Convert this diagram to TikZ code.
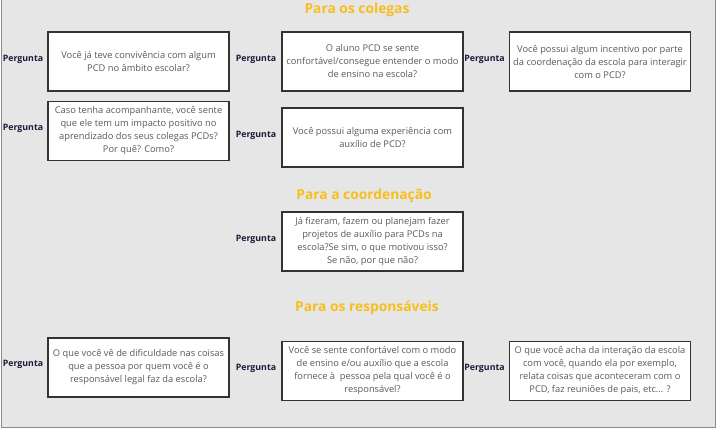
\documentclass[tikz,border=0pt]{standalone}
\usepackage{fontspec}
\setmainfont{Open Sans}
\definecolor{panelbg}{HTML}{E6E6E6}
\definecolor{panelline}{HTML}{8A8A8A}
\definecolor{boxline}{HTML}{333333}
\definecolor{qtext}{HTML}{5A5A5A}
\definecolor{lbl}{HTML}{1C1C3C}
\definecolor{ttl}{HTML}{F8BE1E}
\tikzset{
  qbox/.style={draw=boxline, line width=1.6pt, fill=white, minimum width=181pt, minimum height=59pt, inner sep=0pt, align=center, text=qtext, font=\fontsize{9.3}{13}\selectfont},
  qlabel/.style={text=lbl, font=\fontsize{8.8}{10}\selectfont\bfseries, inner sep=0pt},
  sectitle/.style={text=ttl, font=\fontsize{13.8}{15}\selectfont\bfseries, inner sep=0pt}
}
\begin{document}
\begin{tikzpicture}[x=1pt,y=-1pt]
\useasboundingbox (0,0) rectangle (719,429);
\fill[white] (0,0) rectangle (719,429);
\draw[panelline, fill=panelbg, line width=1.5pt] (1.5,-5) rectangle (715.5,427.5);
% titles
\node[sectitle] (t1) at (357,10) {Para os colegas};
\node[sectitle] (t2) at (364,196) {Para a coordenação};
\node[sectitle] (t3) at (367,308) {Para os responsáveis};
% row 1
\node[qbox] (b1) at (138.5,61.5) {Você já teve convivência com algum\\PCD no âmbito escolar?};
\node[qbox] (b2) at (372.5,61.5) {O aluno PCD se sente\\confortável/consegue entender o modo\\de ensino na escola?};
\node[qbox] (b3) at (600,61.5) {Você possui algum incentivo por parte\\da coordenação da escola para interagir\\com o PCD?};
\node[qlabel] (l1) at (23,59) {Pergunta};
\node[qlabel] (l2) at (256,59) {Pergunta};
\node[qlabel] (l3) at (484.5,59) {Pergunta};
% row 2
\node[qbox] (b4) at (138.5,131) {Caso tenha acompanhante, você sente\\que ele tem um impacto positivo no\\aprendizado dos seus colegas PCDs?\\Por quê? Como?};
\node[qbox] (b5) at (372.5,137.5) {Você possui alguma experiência com\\auxílio de PCD?};
\node[qlabel] (l4) at (23,128) {Pergunta};
\node[qlabel] (l5) at (256,135) {Pergunta};
% coordination
\node[qbox] (b6) at (372.5,241.5) {Já fizeram, fazem ou planejam fazer\\projetos de auxílio para PCDs na\\escola?Se sim, o que motivou isso?\\Se não, por que não?};
\node[qlabel] (l6) at (256,239) {Pergunta};
% responsibles
\node[qbox] (b7) at (138.5,367.5) {O que você vê de dificuldade nas coisas\\que a pessoa por quem você é o\\responsável legal faz da escola?};
\node[qbox] (b8) at (372.5,371) {Você se sente confortável com o modo\\de ensino e/ou auxílio que a escola\\fornece à\ \ pessoa pela qual você é o\\responsável?};
\node[qbox] (b9) at (600,371) {O que você acha da interação da escola\\com você, quando ela por exemplo,\\relata coisas que aconteceram com o\\PCD, faz reuniões de pais, etc... ?};
\node[qlabel] (l7) at (23,364) {Pergunta};
\node[qlabel] (l8) at (256,368) {Pergunta};
\node[qlabel] (l9) at (484.5,368) {Pergunta};
\end{tikzpicture}
\end{document}
